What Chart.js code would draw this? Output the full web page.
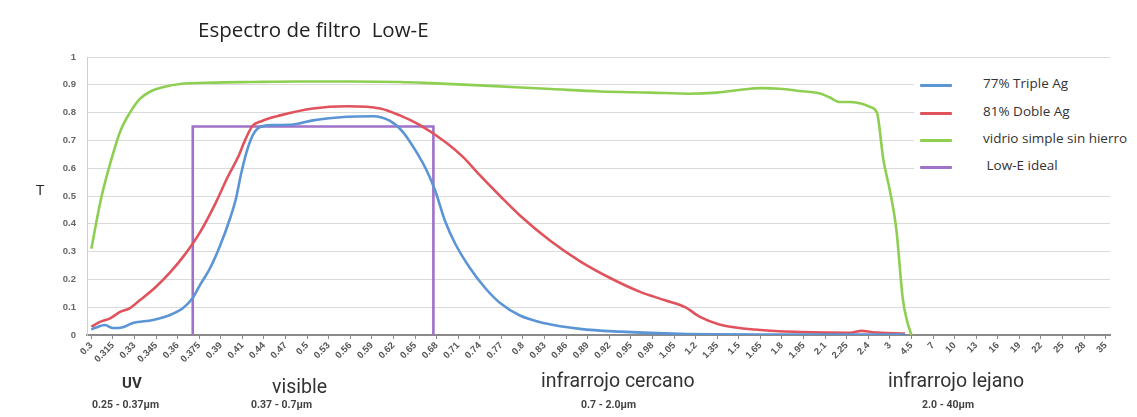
<!DOCTYPE html>
<html>
<head>
<meta charset="utf-8">
<script src="https://cdn.jsdelivr.net/npm/chart.js@4"></script>
<style>
  body { margin: 0; background: #fff; }
  #wrap { position: relative; width: 1137px; height: 417px; font-family: "Open Sans", sans-serif; }
  .lbl { position: absolute; white-space: nowrap; color: #222; }
  .band { font-family: "Roboto", sans-serif; font-size: 19.5px; color: #333; }
  .sub { font-family: "Roboto", sans-serif; font-size: 10.5px; font-weight: bold; color: #444; }
  #legend { position: absolute; left: 914px; top: 62px; width: 223px; height: 124px; background: #fff; }
  #legend .row { position: absolute; left: 0; height: 20px; }
  #legend i { position: absolute; left: 6px; top: 10px; width: 32px; height: 3px; border-radius: 1px; }
  #legend span { position: absolute; left: 69px; top: 0; font-size: 13.5px; color: #333; white-space: nowrap; }
</style>
</head>
<body>
<div id="wrap">
  <canvas id="chart" width="1137" height="417"></canvas>
  <div class="lbl" style="left:198px;top:15px;font-size:20.5px;">Espectro de filtro&nbsp; Low-E</div>
  <div class="lbl" style="left:36px;top:179px;font-size:15px;">T</div>
  <div id="legend"></div>
  <div class="lbl band" style="left:122px;top:374px;font-weight:bold;font-size:15px;">UV</div>
  <div class="lbl sub" style="left:92px;top:398px;">0.25 - 0.37μm</div>
  <div class="lbl band" style="left:272px;top:375px;">visible</div>
  <div class="lbl sub" style="left:251px;top:398px;">0.37 - 0.7μm</div>
  <div class="lbl band" style="left:541px;top:369px;">infrarrojo cercano</div>
  <div class="lbl sub" style="left:581px;top:398px;">0.7 - 2.0μm</div>
  <div class="lbl band" style="left:888px;top:369px;">infrarrojo lejano</div>
  <div class="lbl sub" style="left:922px;top:398px;">2.0 - 40μm</div>
</div>
<script>
// --- datos ---
// etiquetas del eje X (longitud de onda, µm)
const xLabels = ["0.3", "0.315", "0.33", "0.345", "0.36", "0.375", "0.39", "0.41", "0.44", "0.47",
  "0.5", "0.53", "0.56", "0.59", "0.62", "0.65", "0.68", "0.71", "0.74", "0.77", "0.8", "0.83",
  "0.86", "0.89", "0.92", "0.95", "0.98", "1.05", "1.2", "1.35", "1.5", "1.65", "1.8", "1.95",
  "2.1", "2.25", "2.4", "3", "4.5", "7", "10", "13", "16", "19", "22", "25", "28", "35"];

const seriesNames = ["77% Triple Ag", "81% Doble Ag", "vidrio simple sin hierro", " Low-E ideal"];
const seriesColors = ["#5b95d6", "#e0535d", "#8ecf52", "#9f72c8"];

// posición en el eje de categorías (índice, admite fracciones) y transmitancia
const tripleAgPos = [0, 0.26, 0.63, 1.0, 1.42, 1.93, 2.86, 3.65, 4.25, 4.67, 5.04, 5.5, 5.96, 6.43,
  6.7, 6.94, 7.2, 7.49, 7.82, 8.5, 9.34, 10.27, 11.85, 13.05, 13.84, 14.44, 15.09, 15.55, 15.93,
  16.39, 16.85, 17.55, 18.24, 18.94, 19.86, 21.02, 22.64, 24.5, 27.28, 31.0, 37.7];
const tripleAgT = [0.02, 0.028, 0.036, 0.025, 0.027, 0.043, 0.054, 0.072, 0.097, 0.13, 0.18, 0.24,
  0.32, 0.42, 0.49, 0.58, 0.66, 0.72, 0.748, 0.755, 0.757, 0.772, 0.785, 0.787, 0.77, 0.73, 0.655,
  0.59, 0.52, 0.41, 0.33, 0.24, 0.17, 0.115, 0.07, 0.042, 0.022, 0.012, 0.004, 0.002, 0.002];

const dobleAgPos = [0, 0.4, 0.87, 1.33, 1.79, 2.26, 2.95, 3.65, 4.34, 5.04, 5.73, 6.33, 6.8, 7.12,
  7.45, 7.91, 8.75, 10.27, 11.85, 13.38, 14.3, 15.23, 16.48, 17.23, 18.0, 18.94, 19.86, 21.25,
  22.65, 24.04, 25.43, 26.58, 27.51, 28.2, 29.1, 31.0, 32.84, 35.15, 35.7, 36.2, 37.7];
const dobleAgT = [0.03, 0.047, 0.06, 0.083, 0.097, 0.126, 0.17, 0.225, 0.29, 0.37, 0.47, 0.57, 0.64,
  0.7, 0.75, 0.77, 0.79, 0.815, 0.823, 0.815, 0.79, 0.755, 0.69, 0.64, 0.575, 0.5, 0.43, 0.34,
  0.265, 0.205, 0.155, 0.125, 0.1, 0.065, 0.038, 0.018, 0.011, 0.008, 0.015, 0.01, 0.005];

const vidrioPos = [0, 0.45, 0.96, 1.38, 1.79, 2.26, 2.72, 3.41, 4.11, 5.73, 7.35, 9.67, 11.99, 14.3,
  15.7, 18.0, 21.3, 23.6, 25.9, 27.7, 29.0, 30.1, 31.0, 31.9, 32.8, 33.8, 34.2, 34.7, 35.2, 35.7,
  36.1, 36.4, 36.7, 37.0, 37.3, 37.6, 37.8, 38.0];
const vidrioT = [0.31, 0.49, 0.64, 0.74, 0.8, 0.85, 0.875, 0.893, 0.903, 0.908, 0.91, 0.912, 0.912,
  0.91, 0.906, 0.898, 0.885, 0.876, 0.872, 0.868, 0.872, 0.882, 0.888, 0.886, 0.878, 0.868, 0.855,
  0.838, 0.838, 0.832, 0.82, 0.8, 0.63, 0.52, 0.38, 0.13, 0.05, 0];

const idealPos = [4.7, 4.7, 15.85, 15.85];
const idealT = [0, 0.75, 0.75, 0];

const yTicks = { min: 0, max: 1, step: 0.1 };

// --- gráfico ---
const pts = (xs, ys) => xs.map((x, i) => ({ x, y: ys[i] }));
const allPos = [tripleAgPos, dobleAgPos, vidrioPos, idealPos];
const allT = [tripleAgT, dobleAgT, vidrioT, idealT];

const datasets = seriesNames.map((name, i) => ({
  label: name,
  data: pts(allPos[i], allT[i]),
  borderColor: seriesColors[i],
  backgroundColor: seriesColors[i],
  borderWidth: 2.6,
  pointRadius: 0,
  cubicInterpolationMode: i === 3 ? "default" : "monotone",
  tension: 0,
}));

new Chart(document.getElementById("chart"), {
  type: "line",
  data: { datasets },
  options: {
    responsive: false,
    animation: false,
    layout: { padding: { top: 57, right: 27, bottom: 0, left: 0 } },
    plugins: { legend: { display: false }, tooltip: { enabled: false } },
    scales: {
      x: {
        type: "linear",
        min: -0.2,
        max: 47.2,
        afterBuildTicks: s => { s.ticks = xLabels.map((_, i) => ({ value: i })); },
        afterFit: s => { s.height = 82; },
        ticks: {
          autoSkip: false, minRotation: 45, maxRotation: 45, padding: 1,
          color: "#555", font: { family: "Liberation Sans", size: 9.5, weight: "bold" },
          callback: v => xLabels[v],
        },
        grid: { drawOnChartArea: false, color: "#8a8a8a", tickLength: 4 },
        border: { color: "#8a8a8a", width: 2 },
      },
      y: {
        min: yTicks.min,
        max: yTicks.max,
        afterFit: s => { s.width = 87; },
        ticks: {
          stepSize: yTicks.step, padding: 11,
          color: "#666", font: { family: "Liberation Sans", size: 9.5, weight: "bold" },
          callback: v => String(+v.toFixed(1)),
        },
        grid: { color: "#dadada", drawTicks: false },
        border: { color: "#cfcfcf" },
      },
    },
  },
});

// --- leyenda ---
const legend = document.getElementById("legend");
const rowTops = [12, 40, 67, 94];
legend.innerHTML = seriesNames
  .map((n, i) => `<div class="row" style="top:${rowTops[i]}px"><i style="background:${seriesColors[i]}"></i><span>${n.replace(/^ /, "&nbsp;")}</span></div>`)
  .join("");
</script>
</body>
</html>
